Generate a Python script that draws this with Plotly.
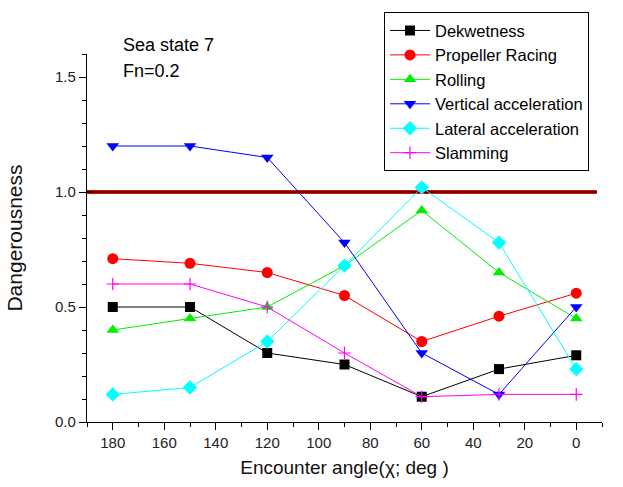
import plotly.graph_objects as go

angles = [180, 150, 120, 90, 60, 30, 0]
dekwetness = [0.50, 0.50, 0.30, 0.25, 0.11, 0.23, 0.29]
propeller = [0.71, 0.69, 0.65, 0.55, 0.35, 0.46, 0.56]
rolling = [0.40, 0.45, 0.50, 0.68, 0.92, 0.65, 0.45]
vertical = [1.20, 1.20, 1.15, 0.78, 0.30, 0.12, 0.50]
lateral = [0.12, 0.15, 0.35, 0.68, 1.02, 0.78, 0.23]
slamming = [0.60, 0.60, 0.50, 0.30, 0.11, 0.12, 0.12]
threshold_x = [190, -8]
threshold_y = [1.0, 1.0]

FONT = "Arial, Liberation Sans, sans-serif"

series = [
    ("Dekwetness", dekwetness, "black", "square", 10),
    ("Propeller Racing", propeller, "red", "circle", 11),
    ("Rolling", rolling, "#00ee00", "triangle-up", 11),
    ("Vertical acceleration", vertical, "blue", "triangle-down", 11),
    ("Lateral acceleration", lateral, "cyan", "diamond", 11),
    ("Slamming", slamming, "magenta", "cross-thin", 9),
]

fig = go.Figure()
fig.add_trace(go.Scatter(x=threshold_x, y=threshold_y, mode="lines",
                         line=dict(color="red", width=4), showlegend=False, hoverinfo="skip"))
fig.add_trace(go.Scatter(x=threshold_x, y=threshold_y, mode="lines",
                         line=dict(color="black", width=1.5), showlegend=False, hoverinfo="skip"))
for name, vals, color, sym, size in series:
    mk = dict(symbol=sym, size=size, color=color)
    if sym == "cross-thin":
        mk["line"] = dict(color=color, width=1.2)
    fig.add_trace(go.Scatter(x=angles, y=vals, mode="lines+markers", name=name,
                             line=dict(color=color, width=1), marker=mk))

W, H = 623 - 87 - 21, 487 - 52 - 65

fig.update_layout(
    width=623, height=487,
    margin=dict(l=87, r=21, t=52, b=65),
    paper_bgcolor="white", plot_bgcolor="white",
    font=dict(family=FONT, color="#222222", size=15),
    showlegend=True,
    legend=dict(x=(384 - 87) / W, y=(422 - 10) / H, xanchor="left", yanchor="top",
                bgcolor="white", bordercolor="black", borderwidth=1,
                font=dict(size=16.5, color="black"), tracegroupgap=0,
                itemwidth=40),
    xaxis=dict(range=[190, -10], tickmode="array",
               tickvals=[180, 160, 140, 120, 100, 80, 60, 40, 20, 0],
               ticks="outside", ticklen=7, tickwidth=1.3, tickcolor="black",
               minor=dict(tickmode="linear", dtick=10, tick0=0, ticks="outside", ticklen=4, tickcolor="black"),
               showline=True, linecolor="black", linewidth=1.3, showgrid=False, zeroline=False,
               title=dict(text="Encounter angle(χ; deg )", font=dict(size=19, color="#111111"), standoff=10),
               tickfont=dict(size=15)),
    yaxis=dict(range=[0, 1.6], tickmode="array", tickvals=[0, 0.5, 1.0, 1.5],
               ticktext=["0.0", "0.5", "1.0", "1.5"],
               ticks="outside", ticklen=7, tickwidth=1.3, tickcolor="black",
               minor=dict(tickmode="linear", dtick=0.1, tick0=0, ticks="outside", ticklen=4, tickcolor="black"),
               showline=True, linecolor="black", linewidth=1.3, showgrid=False, zeroline=False,
               title=dict(text="Dangerousness", font=dict(size=21, color="#111111"), standoff=26),
               tickfont=dict(size=15)),
    annotations=[
        dict(text="Sea state 7", x=(121 - 87) / W, y=(422 - 43) / H, xref="paper", yref="paper",
             xanchor="left", yanchor="middle", showarrow=False, font=dict(size=18, color="black")),
        dict(text="Fn=0.2", x=(121 - 87) / W, y=(422 - 69) / H, xref="paper", yref="paper",
             xanchor="left", yanchor="middle", showarrow=False, font=dict(size=18, color="black")),
    ],
)

fig.write_html("out.html")
